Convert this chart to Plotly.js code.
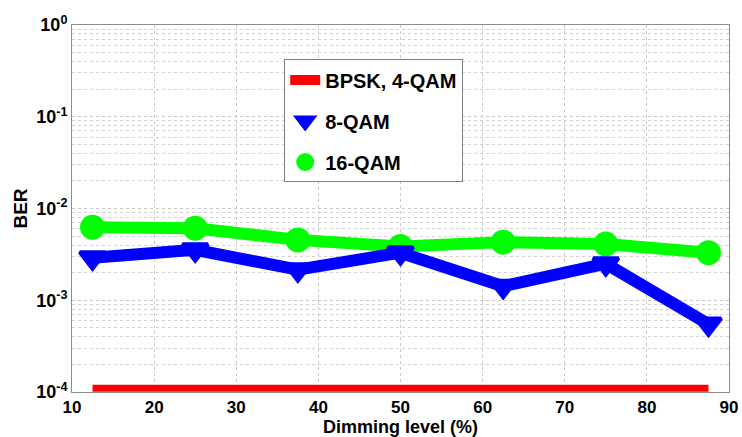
<!DOCTYPE html>
<html>
<head>
<meta charset="utf-8">
<script src="https://cdn.plot.ly/plotly-3.0.1.min.js"></script>
<style>html,body{margin:0;padding:0;background:#fff;}#chart{width:742px;height:437px;}</style>
</head>
<body>
<div id="chart"></div>
<script>
// Data
var dimming = [12.5, 25, 37.5, 50, 62.5, 75, 87.5];
var berBPSK = [1.1e-4, 1.1e-4, 1.1e-4, 1.1e-4, 1.1e-4, 1.1e-4, 1.1e-4];
var ber8QAM = [2.9e-3, 3.55e-3, 2.15e-3, 3.3e-3, 1.42e-3, 2.5e-3, 5.5e-4];
var ber16QAM = [6.25e-3, 6.1e-3, 4.55e-3, 3.85e-3, 4.3e-3, 4.1e-3, 3.3e-3];
var seriesNames = ['BPSK, 4-QAM', '8-QAM', '16-QAM'];
var xTickVals = [10, 20, 30, 40, 50, 60, 70, 80, 90];
var xTickText = ['10', '20', '30', '40', '50', '60', '70', '80', '90'];
var yTickVals = [1e-4, 1e-3, 1e-2, 1e-1, 1];
var yTickText = ['10<sup>-4</sup>', '10<sup>-3</sup>', '10<sup>-2</sup>', '10<sup>-1</sup>', '10<sup>0</sup>'];

var RED = '#ff0000', BLUE = '#0000ff', GREEN = '#00ff00';
var FONT = 'Liberation Sans, Arial, sans-serif';

var traces = [
  {x: dimming, y: berBPSK, mode: 'lines', line: {color: RED, width: 7}, showlegend: false, hoverinfo: 'skip'},
  {x: dimming, y: ber16QAM, mode: 'lines+markers', line: {color: GREEN, width: 12},
   marker: {symbol: 'circle', size: 22, color: GREEN, line: {color: GREEN, width: 3}}, showlegend: false},
  {x: dimming, y: ber8QAM, mode: 'lines+markers', line: {color: BLUE, width: 12},
   marker: {symbol: 'triangle-down', size: 22, color: BLUE, line: {color: BLUE, width: 4}}, showlegend: false},
  // legend entries
  {x: [null], y: [null], mode: 'lines', name: seriesNames[0], line: {color: RED, width: 10}, legendgroup: 'a'},
  {x: [null], y: [null], mode: 'markers', name: seriesNames[1], legendgroup: 'b',
   marker: {symbol: 'triangle-down', size: 16, color: BLUE, line: {color: BLUE, width: 3}}},
  {x: [null], y: [null], mode: 'markers', name: seriesNames[2], legendgroup: 'c',
   marker: {symbol: 'circle', size: 18, color: GREEN, line: {color: GREEN, width: 2}}}
];

var layout = {
  width: 742, height: 437,
  margin: {l: 72, r: 13, t: 25, b: 45},
  paper_bgcolor: '#fff', plot_bgcolor: '#fff',
  font: {family: FONT, size: 18, color: '#000', weight: 'bold'},
  showlegend: true,
  legend: {x: 0.323, y: 0.906, xanchor: 'left', yanchor: 'top',
    bordercolor: '#7f7f7f', borderwidth: 1, bgcolor: '#fff',
    font: {family: FONT, size: 20, color: '#000', weight: 'bold'},
    traceorder: 'grouped', tracegroupgap: 12, itemwidth: 30,
    entrywidth: 165, entrywidthmode: 'pixels'},
  xaxis: {
    range: [10, 90], tickvals: xTickVals, ticktext: xTickText,
    showgrid: true, gridcolor: '#c9c9c9', griddash: 'dot', gridwidth: 1,
    showline: true, linecolor: '#8c8c8c', linewidth: 1, mirror: true,
    ticks: '', zeroline: false,
    tickfont: {family: FONT, size: 17, color: '#000', weight: 'bold'},
    title: {text: 'Dimming level (%)', standoff: 0, font: {family: FONT, size: 18, color: '#000', weight: 'bold'}}
  },
  yaxis: {
    type: 'log', range: [-4, 0], tickvals: yTickVals, ticktext: yTickText,
    showgrid: true, gridcolor: '#c9c9c9', griddash: 'dot', gridwidth: 1,
    minor: {dtick: 'D1', showgrid: true, gridcolor: '#d2d2d2', griddash: 'dot', gridwidth: 1, ticks: ''},
    showline: true, linecolor: '#8c8c8c', linewidth: 1, mirror: true,
    ticks: '', zeroline: false,
    tickfont: {family: FONT, size: 18, color: '#000', weight: 'bold'},
    title: {text: 'BER', standoff: 3, font: {family: FONT, size: 19, color: '#000', weight: 'bold'}}
  }
};

Plotly.newPlot('chart', traces, layout, {staticPlot: true, displayModeBar: false});
</script>
</body>
</html>
